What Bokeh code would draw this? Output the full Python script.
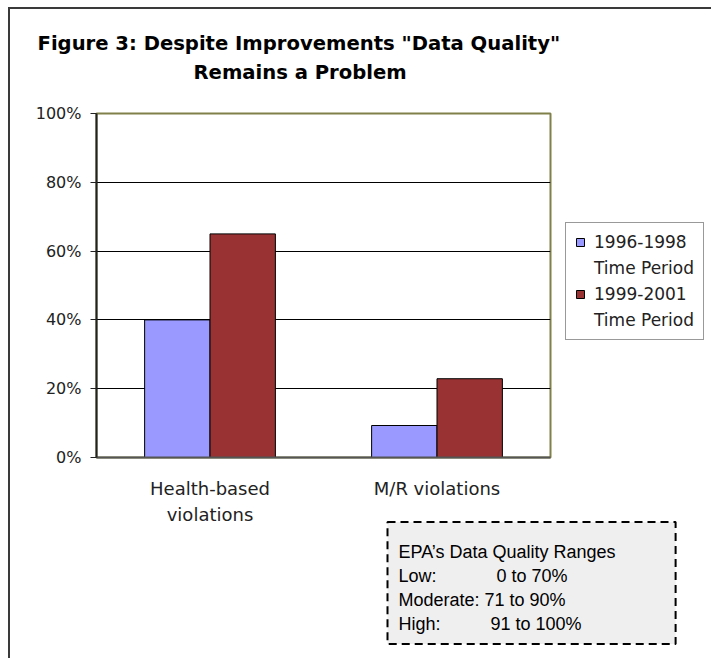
from bokeh.plotting import figure
from bokeh.models import (FactorRange, Range1d, NumeralTickFormatter, Legend, LegendItem,
                          Title, FixedTicker, ColumnDataSource, CategoricalAxis)
from bokeh.transform import dodge
from bokeh.embed import file_html
from bokeh.resources import INLINE

# categories: first and second line of each axis label
categories = ["Health-based", "M/R violations"]
categories_line2 = ["violations", " "]
series_periods = ["1996-1998", "1999-2001"]
series_suffix = "Time Period"
values_1996_1998 = [0.40, 0.093]
values_1999_2001 = [0.65, 0.229]
y_ticks = [0, 0.2, 0.4, 0.6, 0.8, 1.0]
title_lines = ["Figure 3: Despite Improvements \"Data Quality\"", "Remains a Problem"]
box_title = "EPA\u2019s Data Quality Ranges"
NB = "\u00a0"
box_rows = ["Low:" + NB * 12 + "0 to 70%",
            "Moderate:" + NB + "71 to 90%",
            "High:" + NB * 10 + "91 to 100%"]

colors = ["#9999FF", "#993333"]

src = ColumnDataSource(dict(cat=categories, a=values_1996_1998, b=values_1999_2001))

p = figure(width=700, height=649, x_range=FactorRange(*categories), y_range=Range1d(0, 1),
           output_backend="svg", toolbar_location=None,
           min_border_left=86, min_border_right=160, min_border_top=104, min_border_bottom=201)
p.frame_width = 454
p.frame_height = 344
p.extra_x_ranges = {"line2": FactorRange(*categories_line2)}
p.styles = {"margin-left": "8px", "margin-top": "7px",
            "border-left": "2px solid #3a3a3a", "border-top": "2px solid #3a3a3a",
            "border-right": "1px solid #8c8c8c"}

r1 = p.vbar(x=dodge("cat", -0.144, range=p.x_range), top="a", width=0.288, source=src,
            fill_color=colors[0], line_color="black", line_width=1)
r2 = p.vbar(x=dodge("cat", 0.144, range=p.x_range), top="b", width=0.288, source=src,
            fill_color=colors[1], line_color="black", line_width=1)
blank = p.vbar(x=[], top=[], width=0.1, fill_alpha=0, line_alpha=0)

p.outline_line_color = "#80804a"
p.outline_line_width = 2
p.xgrid.grid_line_color = None
p.ygrid.grid_line_color = "black"
p.ygrid.grid_line_width = 1
p.ygrid.ticker = FixedTicker(ticks=y_ticks)
p.background_fill_color = "white"

p.yaxis.ticker = FixedTicker(ticks=y_ticks)
p.yaxis.formatter = NumeralTickFormatter(format="0%")
p.yaxis.axis_line_color = "#222"
p.yaxis.axis_line_width = 2
p.yaxis.major_tick_in = 0
p.yaxis.major_tick_out = 6
p.yaxis.major_tick_line_color = "#222"
p.yaxis.minor_tick_line_color = None
p.yaxis.major_label_standoff = 9
p.yaxis.major_label_text_font = "DejaVu Sans"
p.yaxis.major_label_text_font_size = "16px"
p.yaxis.major_label_text_color = "#222"

x2 = CategoricalAxis(x_range_name="line2")
p.add_layout(x2, "below")
for ax, so in [(p.xaxis[0], 20), (x2, 2)]:
    ax.major_tick_line_color = None
    ax.minor_tick_line_color = None
    ax.major_tick_out = 0
    ax.major_tick_in = 0
    ax.major_label_standoff = so
    ax.major_label_text_font = "DejaVu Sans"
    ax.major_label_text_font_size = "18px"
    ax.major_label_text_color = "#222"
p.xaxis[0].axis_line_color = "#555"
p.xaxis[0].axis_line_width = 2
x2.axis_line_color = None

legend = Legend(items=[LegendItem(label=series_periods[0], renderers=[r1]),
                       LegendItem(label=series_suffix, renderers=[blank]),
                       LegendItem(label=series_periods[1], renderers=[r2]),
                       LegendItem(label=series_suffix, renderers=[blank])],
                location=(15, 117))
legend.border_line_color = "#333"
legend.border_line_width = 1
legend.background_fill_color = "white"
legend.background_fill_alpha = 1
legend.glyph_width = 10
legend.glyph_height = 10
legend.label_height = 20
legend.label_text_font = "DejaVu Sans"
legend.label_text_font_size = "17px"
legend.label_text_color = "#222"
legend.label_standoff = 9
legend.padding = 9
legend.spacing = 6
legend.margin = 0
p.add_layout(legend, "right")

# quality-range box: one multi-line text block inside a dashed grey box
box_text = "\n".join([box_title] + box_rows)
p.add_layout(Title(text=box_text, align="left", offset=291, standoff=-15,
                   text_font="Liberation Sans", text_font_style="normal",
                   text_font_size="18px", text_color="black", text_line_height=1.2,
                   background_fill_color="#efefef", background_fill_alpha=1,
                   border_line_color="black", border_line_width=2, border_line_dash="8 5",
                   padding=dict(left=11, right=60, top=20, bottom=10)), "below")

# title lines, added nearest-first
p.add_layout(Title(text=title_lines[1], align="left", offset=97,
                   text_font="DejaVu Sans", text_font_style="bold",
                   text_font_size="19.6px", text_color="black", standoff=59), "above")
p.add_layout(Title(text=title_lines[0], align="left", offset=-59,
                   text_font="DejaVu Sans", text_font_style="bold",
                   text_font_size="19.6px", text_color="black", standoff=-51), "above")

open("out.html", "w").write(file_html(p, INLINE))
